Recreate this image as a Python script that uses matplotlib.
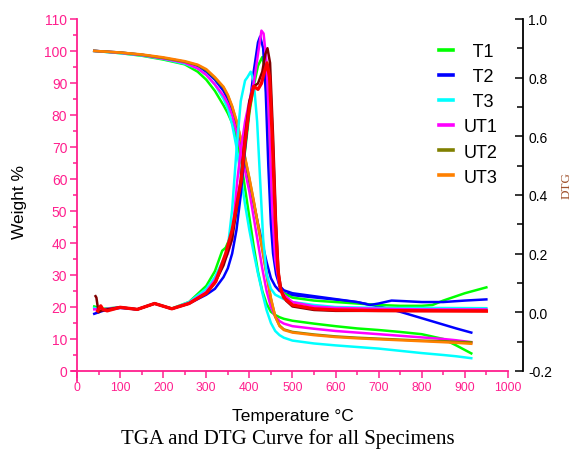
import matplotlib
matplotlib.use("Agg")
import matplotlib.pyplot as plt
from matplotlib.ticker import MultipleLocator

plt.rcParams['font.family'] = ['Liberation Sans', 'DejaVu Sans']

PINK = '#FF1F8E'

# TGA curves (weight %)
tga_temp = [40, 100, 150, 200, 250, 280, 300, 320, 340, 350, 360, 370, 380, 390, 400,
            410, 420, 430, 440, 450, 460, 470, 480, 500, 550, 600, 650, 700, 750, 800,
            850, 880, 915]
tga_t1 = [100, 99.3, 98.5, 97.3, 95.8, 93.5, 91, 87.5, 83, 80.5, 77.5, 73, 66, 57, 48,
          39, 31, 25, 21, 18.5, 17.5, 16.8, 16.3, 15.7, 14.8, 14, 13.3, 12.8, 12.2, 11.5,
          10, 8, 5.5]
tga_t2 = [100, 99.5, 98.8, 97.8, 96.6, 95.3, 93.5, 91, 87.5, 85, 81.5, 77, 71, 65, 59,
          52.5, 46, 40, 34, 29, 26.5, 25, 24.3, 23.7, 23, 22.3, 21.5, 20.2, 18.5, 16.5,
          14.5, 13.3, 12]
tga_t3 = [100, 99.3, 98.6, 97.5, 96, 94.5, 92.5, 89.5, 85, 82, 77, 70, 61, 52, 44,
          37, 30.5, 24.5, 19, 15, 12.5, 11.2, 10.4, 9.5, 8.6, 8, 7.5, 7, 6.3, 5.6,
          5, 4.6, 4]
tga_ut1 = [100, 99.4, 98.7, 97.6, 96.3, 94.5, 92.5, 89.5, 86, 83.5, 80, 75, 69, 62.5, 56,
           48, 40, 32, 25, 20, 17, 15.6, 14.8, 14, 13.2, 12.5, 12, 11.5, 11, 10.5,
           10, 9.6, 9]
tga_ut2 = [100, 99.5, 98.8, 97.8, 96.6, 95.5, 94, 91.5, 88.5, 86, 82.5, 78, 72.5, 66.5, 60,
           53, 45.5, 38, 30, 22.5, 17, 14.2, 13, 12.2, 11.4, 10.8, 10.4, 10.1, 9.8, 9.5,
           9.3, 9.1, 9]
tga_ut3 = [100, 99.5, 98.9, 98, 96.8, 95.7, 94.3, 91.8, 88.8, 86.3, 82.8, 78.3, 72.8, 66.8, 60.3,
           53.3, 45.8, 38.3, 30.3, 22.8, 17, 14, 12.8, 12, 11.2, 10.6, 10.2, 9.9, 9.6, 9.3,
           9, 8.8, 8.5]

# DTG curves
dtg_t1_temp = [40, 60, 100, 140, 180, 220, 260, 300, 320, 337, 345, 360, 375, 390, 400, 410,
               420, 430, 438, 445, 452, 460, 470, 480, 500, 550, 600, 650, 700, 750, 800,
               825, 850, 900, 950]
dtg_t1 = [0.02, 0.012, 0.017, 0.01, 0.03, 0.013, 0.035, 0.09, 0.14, 0.21, 0.22, 0.27, 0.38,
          0.55, 0.68, 0.77, 0.84, 0.87, 0.82, 0.6, 0.35, 0.17, 0.09, 0.065, 0.05, 0.04,
          0.035, 0.03, 0.025, 0.022, 0.022, 0.025, 0.04, 0.065, 0.085]

dtg_t2_temp = [40, 60, 100, 140, 180, 220, 260, 300, 320, 340, 350, 360, 370, 380, 390, 400,
               410, 420, 425, 432, 438, 444, 450, 455, 462, 470, 480, 500, 550, 600, 650,
               680, 700, 730, 760, 800, 850, 900, 950]
dtg_t2 = [-0.005, 0.005, 0.015, 0.01, 0.03, 0.012, 0.03, 0.06, 0.08, 0.12, 0.15, 0.2, 0.28,
          0.4, 0.56, 0.7, 0.82, 0.92, 0.94, 0.9, 0.75, 0.5, 0.3, 0.2, 0.13, 0.09, 0.075,
          0.065, 0.055, 0.045, 0.035, 0.025, 0.03, 0.04, 0.038, 0.035, 0.035, 0.04, 0.044]

dtg_t3_temp = [40, 60, 100, 140, 180, 220, 260, 300, 320, 340, 350, 360, 370, 380, 390, 395,
               403, 410, 418, 425, 432, 440, 450, 460, 480, 500, 550, 600, 700, 800, 950]
dtg_t3 = [0.015, 0.01, 0.017, 0.01, 0.03, 0.012, 0.035, 0.08, 0.12, 0.18, 0.22, 0.35, 0.55,
          0.72, 0.79, 0.8, 0.82, 0.79, 0.65, 0.45, 0.25, 0.13, 0.08, 0.06, 0.045, 0.035,
          0.025, 0.018, 0.015, 0.015, 0.014]

dtg_ut1_temp = [40, 60, 100, 140, 180, 220, 260, 300, 320, 340, 350, 360, 372, 380, 390, 400,
                410, 420, 428, 433, 440, 447, 453, 460, 470, 480, 500, 550, 600, 700, 800, 950]
dtg_ut1 = [0.01, 0.01, 0.017, 0.01, 0.03, 0.012, 0.032, 0.07, 0.11, 0.17, 0.2, 0.25, 0.45,
           0.55, 0.65, 0.72, 0.78, 0.88, 0.96, 0.95, 0.85, 0.6, 0.35, 0.18, 0.09, 0.06,
           0.035, 0.02, 0.015, 0.012, 0.01, 0.01]

dtg_ut2_temp = [43, 45, 50, 55, 70, 100, 140, 180, 220, 260, 300, 320, 340, 360, 380, 390,
                400, 410, 420, 430, 437, 442, 448, 455, 462, 468, 475, 485, 500, 550, 600, 950]
dtg_ut2 = [0.055, 0.05, 0.0, 0.005, 0.01, 0.017, 0.01, 0.03, 0.012, 0.03, 0.065, 0.1, 0.16,
           0.25, 0.45, 0.6, 0.72, 0.77, 0.78, 0.82, 0.88, 0.9, 0.85, 0.6, 0.3, 0.13, 0.07,
           0.04, 0.02, 0.008, 0.005, 0.005]

dtg_ut3_temp = [48, 55, 60, 70, 100, 140, 180, 220, 260, 300, 322, 345, 360, 381, 390, 400,
                410, 420, 428, 435, 441, 447, 453, 460, 466, 472, 480, 500, 550, 600, 700,
                800, 950]
dtg_ut3 = [0.005, 0.022, 0.01, 0.005, 0.017, 0.01, 0.03, 0.012, 0.03, 0.065, 0.105, 0.2,
           0.28, 0.45, 0.58, 0.7, 0.77, 0.76, 0.78, 0.82, 0.85, 0.8, 0.6, 0.32, 0.15, 0.08,
           0.05, 0.025, 0.012, 0.008, 0.006, 0.005, 0.004]

labels = ['  T1', '  T2', '  T3', 'UT1', 'UT2', 'UT3']
tga_colors = ['#00FF00', '#0000FF', '#00FFFF', '#FF00FF', '#808000', '#FF8000']
dtg_colors = ['#00FF00', '#0000FF', '#00FFFF', '#FF00FF', '#800000', '#FF0000']

fig = plt.figure(figsize=(5.73, 4.52), dpi=100)
ax = fig.add_axes([0.1344, 0.177, 0.752, 0.779])
ax2 = ax.twinx()

tga_series = [tga_t1, tga_t2, tga_t3, tga_ut1, tga_ut2, tga_ut3]
handles = []
for vals, c in zip(tga_series, tga_colors):
    h, = ax.plot(tga_temp, vals, color=c, lw=1.8)
    handles.append(h)

dtg_series = [(dtg_t1_temp, dtg_t1), (dtg_t2_temp, dtg_t2), (dtg_t3_temp, dtg_t3),
              (dtg_ut1_temp, dtg_ut1), (dtg_ut2_temp, dtg_ut2), (dtg_ut3_temp, dtg_ut3)]
for (t, v), c in zip(dtg_series, dtg_colors):
    ax2.plot(t, v, color=c, lw=2.4 if c == '#FF0000' else 1.8)

ax.set_xlim(0, 1000)
ax.set_ylim(0, 110)
ax2.set_ylim(-0.2, 1.0)

ax.xaxis.set_major_locator(MultipleLocator(100))
ax.xaxis.set_minor_locator(MultipleLocator(50))
ax.yaxis.set_major_locator(MultipleLocator(10))
ax.yaxis.set_minor_locator(MultipleLocator(5))
ax2.yaxis.set_major_locator(MultipleLocator(0.2))
ax2.yaxis.set_minor_locator(MultipleLocator(0.1))
ax2.yaxis.set_major_formatter(matplotlib.ticker.FormatStrFormatter('%.1f'))

for s in ['top', 'right']:
    ax.spines[s].set_visible(False)
for s in ['top', 'left', 'bottom']:
    ax2.spines[s].set_visible(False)
ax.spines['left'].set_color(PINK)
ax.spines['bottom'].set_color(PINK)
ax.spines['left'].set_linewidth(1.3)
ax.spines['bottom'].set_linewidth(1.3)
# axes lines cross a little at the origin, as in the original
ax.spines['left'].set_bounds(-3, 110)
ax.spines['bottom'].set_bounds(-12, 1000)
ax2.spines['right'].set_position(('outward', 10.8))
ax2.spines['right'].set_linewidth(1.3)

ax.tick_params(axis='x', which='both', direction='out', color=PINK, labelcolor=PINK,
               labelsize=8.7, width=1.1, pad=2)
ax.tick_params(axis='y', which='both', direction='out', color=PINK, labelcolor=PINK,
               labelsize=10, width=1.1, pad=2)
ax.tick_params(which='major', length=5)
ax.tick_params(which='minor', length=3)
ax2.tick_params(axis='y', which='both', direction='in', labelsize=10, width=1.1, pad=4)
ax2.tick_params(which='major', length=6)
ax2.tick_params(which='minor', length=4)

fig.text(20 / 573, 1 - 202 / 452, 'Weight %', rotation=90, ha='center', va='center',
         fontsize=12.5)
fig.text(293 / 573, 1 - 417 / 452, 'Temperature °C', ha='center', va='center',
         fontsize=12.5)
fig.text(288 / 573, 1 - 439 / 452, 'TGA and DTG Curve for all Specimens', ha='center',
         va='center', fontsize=15, family='Liberation Serif')
fig.text(567 / 573, 1 - 186 / 452, 'DTG', rotation=90, ha='center', va='center',
         fontsize=9.5, family='Liberation Serif', color='#A0522D')

leg = ax.legend(handles, labels, loc='upper left', bbox_to_anchor=(430 / 573, 1 - 35 / 452),
                bbox_transform=fig.transFigure, frameon=False, fontsize=13,
                handlelength=0.8, handletextpad=0.55, labelspacing=0.45, borderpad=0)
for line in leg.get_lines():
    line.set_linewidth(2.6)
leg.set_zorder(5)

fig.savefig('out.png', dpi=100)
